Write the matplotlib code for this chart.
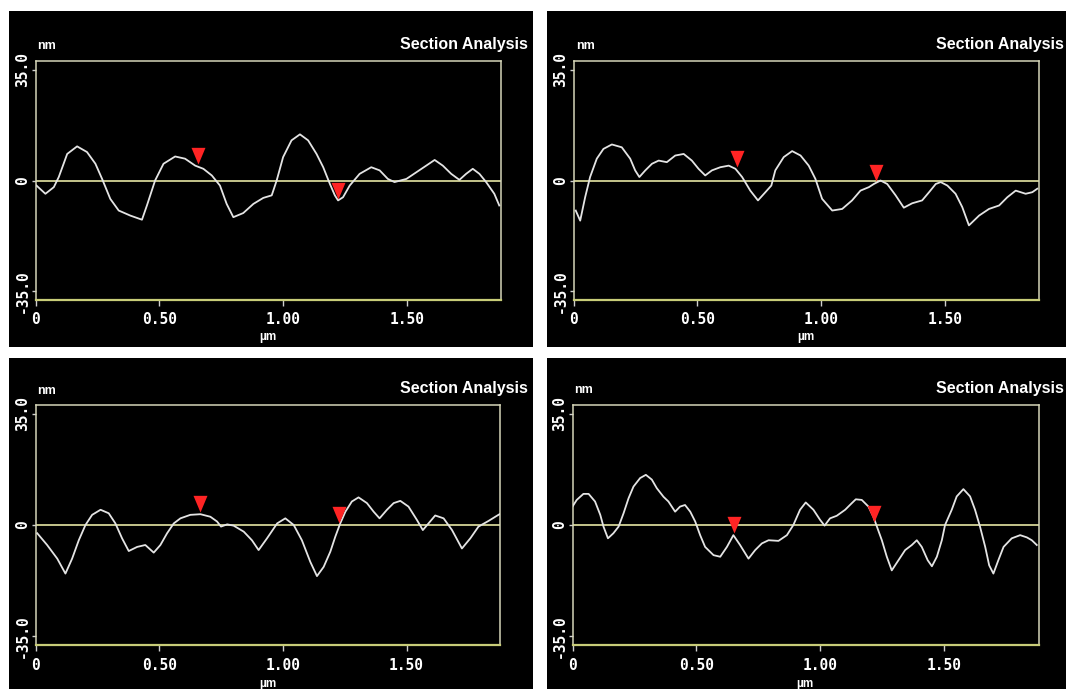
import matplotlib
matplotlib.use('Agg')
import matplotlib.pyplot as plt
from matplotlib.path import Path

W, H = 1066, 689

# ---------------- data (µm, nm) ----------------
p1_x = [0.004, 0.040, 0.074, 0.094, 0.128, 0.168, 0.208, 0.242, 0.269, 0.302, 0.336, 0.383,
        0.430, 0.450, 0.483, 0.517, 0.564, 0.604, 0.645, 0.678, 0.712, 0.745, 0.772, 0.799,
        0.839, 0.880, 0.920, 0.954, 0.974, 1.000, 1.034, 1.068, 1.101, 1.135, 1.162, 1.189,
        1.209, 1.222, 1.242, 1.269, 1.309, 1.356, 1.390, 1.423, 1.450, 1.498, 1.538, 1.578,
        1.612, 1.645, 1.679, 1.712, 1.739, 1.766, 1.793, 1.820, 1.853, 1.873]
p1_nm = [-1.6, -4.2, -2.1, 1.1, 8.4, 10.8, 9.0, 5.3, 0.5, -5.8, -9.5, -11.1,
         -12.4, -7.9, 0.0, 5.3, 7.6, 6.9, 4.7, 3.7, 1.6, -1.6, -7.4, -11.6,
         -10.3, -7.4, -5.5, -4.7, 0.0, 7.4, 12.7, 14.6, 12.7, 8.4, 4.2, -1.1,
         -4.7, -6.3, -5.3, -1.6, 2.1, 4.2, 3.2, 0.5, -0.5, 0.5, 2.6, 4.7,
         6.5, 4.7, 2.1, 0.2, 2.1, 3.7, 2.1, -0.5, -4.2, -7.9]

p2_x = [0.009, 0.027, 0.047, 0.067, 0.094, 0.121, 0.155, 0.195, 0.229, 0.249, 0.266, 0.290,
        0.317, 0.344, 0.377, 0.411, 0.445, 0.478, 0.505, 0.532, 0.559, 0.593, 0.627, 0.654,
        0.681, 0.714, 0.745, 0.775, 0.799, 0.815, 0.849, 0.883, 0.917, 0.950, 0.977, 1.004,
        1.045, 1.085, 1.125, 1.159, 1.193, 1.213, 1.240, 1.267, 1.301, 1.334, 1.368, 1.408,
        1.436, 1.463, 1.483, 1.510, 1.543, 1.570, 1.597, 1.638, 1.678, 1.719, 1.752, 1.786,
        1.826, 1.853, 1.873]
p2_nm = [-9.5, -12.7, -5.3, 1.1, 6.9, 10.0, 11.4, 10.5, 6.9, 3.2, 1.1, 3.2,
         5.3, 6.3, 5.8, 7.9, 8.4, 6.3, 3.7, 1.6, 3.2, 4.2, 4.7, 3.7,
         1.1, -3.2, -6.3, -3.7, -1.6, 3.2, 7.4, 9.3, 7.9, 4.7, 0.5, -5.8,
         -9.5, -9.0, -6.3, -3.2, -2.1, -1.1, 0.0, -1.1, -4.7, -8.6, -7.2, -6.3,
         -3.7, -1.1, -0.5, -1.6, -4.2, -8.4, -14.2, -11.1, -9.0, -7.9, -5.3, -3.2,
         -4.2, -3.7, -2.6]

p3_x = [0.007, 0.047, 0.088, 0.121, 0.148, 0.175, 0.202, 0.229, 0.263, 0.296, 0.323, 0.350,
        0.377, 0.411, 0.444, 0.478, 0.505, 0.532, 0.559, 0.586, 0.626, 0.667, 0.707, 0.734,
        0.750, 0.775, 0.801, 0.842, 0.875, 0.902, 0.936, 0.977, 1.010, 1.044, 1.077, 1.111,
        1.138, 1.165, 1.192, 1.212, 1.232, 1.253, 1.279, 1.306, 1.340, 1.367, 1.391, 1.421,
        1.448, 1.475, 1.508, 1.542, 1.566, 1.589, 1.616, 1.650, 1.684, 1.724, 1.758, 1.791,
        1.832, 1.859, 1.876]
p3_nm = [-2.6, -6.3, -10.6, -15.3, -10.6, -4.8, 0.0, 3.2, 4.8, 3.7, 0.5, -4.2,
         -8.2, -6.9, -6.3, -8.7, -6.3, -2.6, 0.5, 2.1, 3.2, 3.4, 2.6, 1.1,
         -0.5, 0.2, -0.2, -2.1, -4.8, -7.9, -4.2, 0.5, 2.1, 0.0, -4.8, -11.6,
         -16.1, -13.2, -8.4, -3.7, 0.5, 4.2, 7.4, 8.7, 6.9, 4.2, 2.1, 4.8,
         6.9, 7.6, 5.8, 1.6, -1.6, 0.5, 3.0, 2.1, -1.6, -7.4, -4.2, -0.5,
         1.3, 2.6, 3.4]

p4_x = [0.000, 0.017, 0.044, 0.065, 0.091, 0.112, 0.125, 0.143, 0.165, 0.186, 0.206, 0.226,
        0.246, 0.273, 0.296, 0.320, 0.340, 0.367, 0.387, 0.414, 0.434, 0.454, 0.475, 0.495,
        0.515, 0.535, 0.569, 0.596, 0.623, 0.649, 0.676, 0.710, 0.737, 0.764, 0.791, 0.831,
        0.865, 0.891, 0.918, 0.941, 0.972, 0.999, 1.017, 1.039, 1.066, 1.100, 1.127, 1.143,
        1.167, 1.194, 1.214, 1.228, 1.248, 1.268, 1.288, 1.315, 1.342, 1.369, 1.389, 1.409,
        1.433, 1.450, 1.470, 1.490, 1.503, 1.530, 1.550, 1.577, 1.604, 1.624, 1.644, 1.665,
        1.681, 1.698, 1.718, 1.739, 1.772, 1.806, 1.833, 1.853, 1.873]
p4_nm = [5.8, 7.9, 9.8, 9.8, 7.4, 3.2, -0.5, -4.2, -2.6, -0.5, 3.7, 8.4,
         12.1, 14.8, 15.8, 14.3, 11.6, 8.9, 7.4, 4.2, 5.8, 6.3, 4.2, 1.1,
         -3.2, -6.9, -9.5, -10.0, -6.9, -3.2, -6.3, -10.6, -7.9, -5.8, -4.8, -5.0,
         -3.2, 0.0, 4.8, 7.1, 4.8, 1.6, -0.2, 2.1, 2.9, 4.8, 6.9, 8.1,
         7.9, 5.8, 2.6, -0.5, -4.8, -10.0, -14.3, -11.1, -7.9, -6.3, -4.8, -6.9,
         -11.1, -13.0, -10.0, -4.8, 0.0, 4.8, 9.0, 11.3, 9.0, 4.8, -0.5, -6.9,
         -12.7, -15.3, -11.1, -6.9, -4.2, -3.2, -3.9, -4.8, -6.3]

# cursor (red marker) positions
c1_x, c1_nm = [0.658, 1.222], [5.3, -6.0]
c2_x, c2_nm = [0.660, 1.220], [4.2, 0.0]
c3_x, c3_nm = [0.664, 1.226], [4.2, 0.5]
c4_x, c4_nm = [0.652, 1.218], [-2.6, 1.1]

x_ticks = [0, 0.5, 1.0, 1.5]
x_tick_labels = ['0', '0.50', '1.00', '1.50']
y_ticks = [-35, 0, 35]
y_tick_labels = ['-35.0', '0', '35.0']
title_text = 'Section Analysis'
y_unit = 'nm'
x_unit = 'µm'

# ---------------- layout ----------------
fig = plt.figure(figsize=(W / 100, H / 100), dpi=100, facecolor='white')


def rect(x0, y0, x1, y1):
    return [x0 / W, 1 - y1 / H, (x1 - x0) / W, (y1 - y0) / H]


def ftext(x, y, s, **kw):
    fig.text(x / W, 1 - y / H, s, **kw)


panels = [
    dict(bg=(9, 11, 533, 347), box=(35.5, 61, 501, 300), x=p1_x, y=p1_nm, cx=c1_x, cy=c1_nm,
         nm=(37, 46), title=(528, 44), xl=(268, 337)),
    dict(bg=(547, 11, 1066, 347), box=(573.5, 61, 1039, 300), x=p2_x, y=p2_nm, cx=c2_x, cy=c2_nm,
         nm=(576, 46), title=(1064, 44), xl=(806, 337)),
    dict(bg=(9, 358, 533, 689), box=(35.5, 405, 500.5, 645), x=p3_x, y=p3_nm, cx=c3_x, cy=c3_nm,
         nm=(37, 391), title=(528, 389), xl=(268, 684)),
    dict(bg=(547, 358, 1066, 689), box=(572.5, 405, 1038.5, 645), x=p4_x, y=p4_nm, cx=c4_x, cy=c4_nm,
         nm=(574, 390), title=(1064, 388), xl=(805, 684)),
]

tri = Path([(-0.42, 1.0), (0.42, 1.0), (0.0, 0.0), (-0.42, 1.0)],
           [Path.MOVETO, Path.LINETO, Path.LINETO, Path.CLOSEPOLY])

frame_col = '#d6d6b8'
bottom_col = '#c8cc78'
zero_col = '#e6e6a4'
mono = dict(family='DejaVu Sans Mono', weight='bold')

for p in panels:
    bg = fig.add_axes(rect(*p['bg']), zorder=0)
    bg.set_facecolor('black')
    bg.set_xticks([])
    bg.set_yticks([])
    for s in bg.spines.values():
        s.set_visible(False)

    ax = fig.add_axes(rect(*p['box']), zorder=1)
    ax.set_facecolor('black')
    ax.set_xlim(0, 1.88)
    ax.set_ylim(-37.8, 37.8)
    for side in ['top', 'left', 'right']:
        ax.spines[side].set_color(frame_col)
        ax.spines[side].set_linewidth(1.1)
    ax.spines['bottom'].set_color(bottom_col)
    ax.spines['bottom'].set_linewidth(1.6)

    ax.axhline(0, color=zero_col, lw=1.2, zorder=2)
    ax.plot(p['x'], p['y'], color='#e4e4e4', lw=1.3, zorder=3, solid_joinstyle='round')
    ax.plot(p['cx'], p['cy'], linestyle='none', marker=tri, markersize=24,
            color='#ff2424', markeredgewidth=0, zorder=4)

    ax.set_xticks(x_ticks)
    ax.set_xticklabels(x_tick_labels, color='white', fontsize=10.5, **mono)
    ax.set_yticks(y_ticks)
    ax.set_yticklabels(y_tick_labels, color='white', fontsize=10.5, rotation=90,
                       va='center', **mono)
    ax.tick_params(axis='x', direction='out', length=4, width=1, color='#cfcfcf', pad=5)
    ax.tick_params(axis='y', direction='out', length=3, width=1, color='#cfcfcf', pad=1)

    ftext(*p['nm'], y_unit, color='white', fontsize=9, fontweight='bold', va='center', ha='left',
          family='Liberation Sans')
    ftext(*p['title'], title_text, color='white', fontsize=11.5, fontweight='bold', va='center',
          ha='right', family='Liberation Sans')
    ftext(*p['xl'], x_unit, color='white', fontsize=8.5, fontweight='bold', va='center', ha='center',
          family='Liberation Sans')

fig.savefig('out.png', dpi=100, facecolor='white')
